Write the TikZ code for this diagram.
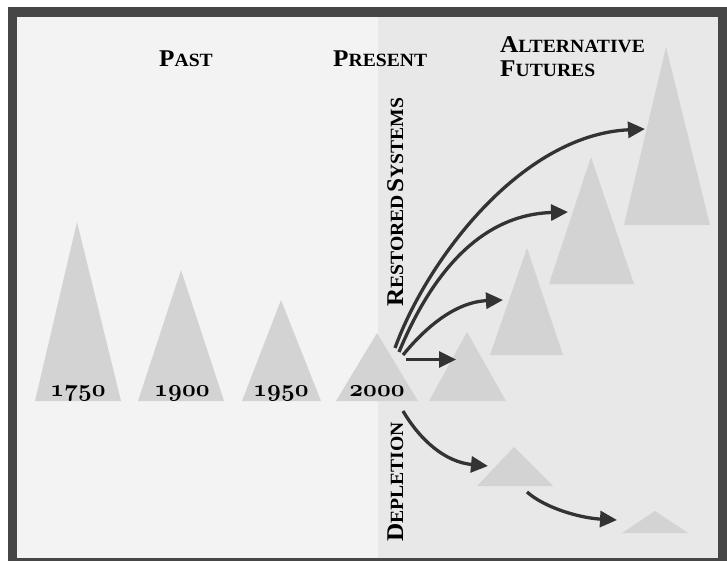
\documentclass[tikz,border=0pt]{standalone}
\usepackage{fontspec}
\setmainfont{Liberation Serif}
\newfontfamily\lblfont{Liberation Serif}[FakeStretch=1.05]
\usetikzlibrary{arrows.meta}
\font\osnum=cmmib10 at 24pt
\definecolor{framegray}{HTML}{464646}
\definecolor{leftbg}{HTML}{F3F3F3}
\definecolor{rightbg}{HTML}{E8E8E8}
\definecolor{trigray}{HTML}{D3D3D3}
\definecolor{arrgray}{HTML}{333333}
\newcommand\Lg[1]{{\fontsize{24pt}{28pt}\selectfont #1}}
\newcommand\Sm[1]{{\fontsize{18.7pt}{28pt}\selectfont #1}}
\newcommand\yr[1]{{\osnum #1}}
\tikzset{
  mnt/.style={fill=trigray, draw=none},
  lbl/.style={inner sep=0pt, font=\lblfont\bfseries, text=black},
  yrlbl/.style={inner sep=0pt, anchor=base, text=black},
  arrw/.style={draw=arrgray, line width=3.3pt, -{Triangle[length=17pt,width=16pt]}},
}
\begin{document}
\begin{tikzpicture}[x=1pt,y=-1pt]
\useasboundingbox (0,0) rectangle (727,561);
% frame and backgrounds
\fill[white] (0,0) rectangle (727,561);
\fill[framegray] (8,7) rectangle (727,561);
\fill[leftbg] (17,17) rectangle (378,558);
\fill[rightbg] (378,17) rectangle (718,558);
% past / present triangles
\fill[mnt] (35,401) -- (77,222) -- (121,401) -- cycle;
\fill[mnt] (138,401) -- (181,270) -- (224,401) -- cycle;
\fill[mnt] (242,401) -- (281,300) -- (321,401) -- cycle;
\fill[mnt] (336,401) -- (377,333) -- (418,401) -- cycle;
% restored futures
\fill[mnt] (429,401) -- (467,332) -- (506,401) -- cycle;
\fill[mnt] (490,355) -- (527,248) -- (563,355) -- cycle;
\fill[mnt] (549,284) -- (591,157) -- (634,284) -- cycle;
\fill[mnt] (624,225) -- (666,47) -- (710,225) -- cycle;
% depletion futures
\fill[mnt] (477,486) -- (514,447) -- (553,486) -- cycle;
\fill[mnt] (622,533) -- (655,511) -- (688,533) -- cycle;
% year labels
\node[yrlbl] (y1750) at (78,396) {\yr{1750}};
\node[yrlbl] (y1900) at (182,396) {\yr{1900}};
\node[yrlbl] (y1950) at (281,396) {\yr{1950}};
\node[yrlbl] (y2000) at (377,396) {\yr{2000}};
% headings
\node[lbl, anchor=base west] (past) at (159,66.7) {\Lg{P}\Sm{AST}};
\node[lbl, anchor=base west] (present) at (333,67) {\Lg{P}\Sm{RESENT}};
\node[lbl, anchor=base west] (alt) at (500,52.3) {\Lg{A}\Sm{LTERNATIVE}};
\node[lbl, anchor=base west] (fut) at (500,76.7) {\Lg{F}\Sm{UTURES}};
\node[lbl, anchor=base west, rotate=90] (restored) at (403,307) {\Lg{R}\Sm{ESTORED} \Lg{S}\Sm{YSTEMS}};
\node[lbl, anchor=base west, rotate=90] (depletion) at (403,542) {\Lg{D}\Sm{EPLETION}};
% arrow end points
\coordinate (s1) at (395,348);
\coordinate (e1) at (645,129);
\coordinate (s2) at (399,352);
\coordinate (e2) at (568,212);
\coordinate (s3) at (403,355);
\coordinate (e3) at (503,300);
\coordinate (s4) at (406,359.5);
\coordinate (e4) at (456,359.5);
\coordinate (s5) at (403,411);
\coordinate (e5) at (488,466);
\coordinate (s6) at (527,492);
\coordinate (e6) at (617,520);
% arrows
\draw[arrw] (s1) .. controls (426,262) and (520,135) .. (e1);
\draw[arrw] (s2) .. controls (424,292) and (470,215) .. (e2);
\draw[arrw] (s3) .. controls (425,328) and (455,302) .. (e3);
\draw[arrw] (s4) -- (e4);
\draw[arrw] (s5) .. controls (420,440) and (445,462) .. (e5);
\draw[arrw] (s6) .. controls (545,508) and (580,518) .. (e6);
\end{tikzpicture}
\end{document}
